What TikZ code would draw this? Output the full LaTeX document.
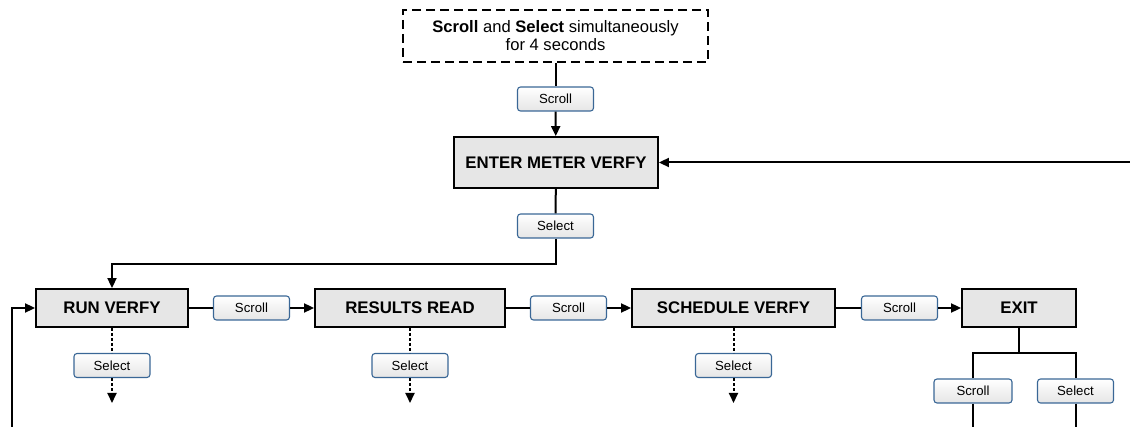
\documentclass[tikz,border=0pt]{standalone}
\usepackage{fontspec}
\setmainfont{Liberation Sans}
\usetikzlibrary{arrows.meta}
\definecolor{btnblue}{HTML}{3A6796}
\definecolor{boxgray}{HTML}{E6E6E6}
\tikzset{
  btn/.style={draw=btnblue, line width=1.1pt, rounded corners=3pt,
    top color=white, bottom color=black!10, minimum width=76pt, minimum height=24pt,
    inner sep=0pt, font=\fontsize{13.2}{15}\selectfont},
  statebox/.style={draw=black, line width=1.9pt, fill=boxgray, inner sep=0pt,
    minimum height=38pt, font=\fontsize{16.8}{19}\selectfont\bfseries},
  startbox/.style={draw=black, line width=1.8pt, dash pattern=on 9pt off 5pt,
    minimum width=305pt, minimum height=52pt, align=center, inner sep=0pt,
    font=\fontsize{16.6}{18}\selectfont},
  conn/.style={line width=2pt, draw=black},
  arr/.style={conn, -{Triangle[length=10pt,width=9pt]}},
  dotconn/.style={conn, dash pattern=on 3pt off 2pt},
  dotarr/.style={dotconn, -{Triangle[length=10pt,width=9pt]}}
}
\begin{document}
\begin{tikzpicture}[x=1pt,y=-1pt]
\useasboundingbox (0,0) rectangle (1130,427);
% start
\node[startbox] (start) at (555.5,36) {\textbf{Scroll} and \textbf{Select} simultaneously\\for 4 seconds};
\node[btn] (scr0) at (555.5,99) {Scroll};
\node[statebox, minimum width=204pt, minimum height=51pt] (enter) at (556,162.5) {ENTER METER VERFY};
\node[btn] (sel0) at (555.5,226) {Select};
% row
\node[statebox, minimum width=152pt] (run) at (112,308) {RUN VERFY};
\node[statebox, minimum width=190pt] (res) at (410,308) {RESULTS READ};
\node[statebox, minimum width=203pt] (sch) at (733.5,308) {SCHEDULE VERFY};
\node[statebox, minimum width=114pt] (exit) at (1019,308) {EXIT};
\node[btn] (s1) at (251.5,308) {Scroll};
\node[btn] (s2) at (568.5,308) {Scroll};
\node[btn] (s3) at (899.5,308) {Scroll};
% selects below
\node[btn] (rsel) at (112,365.5) {Select};
\node[btn] (esel1) at (410,365.5) {Select};
\node[btn] (ssel) at (733.5,365.5) {Select};
\node[btn, minimum width=78pt] (xscr) at (973,391) {Scroll};
\node[btn] (xsel) at (1075.5,391) {Select};
% coordinates
\coordinate (c1) at (112,264);
\coordinate (rin) at (1131,162.5);
\coordinate (lb) at (12,428);
\coordinate (eb) at (1019,353);
\coordinate (rend) at (112,403);
\coordinate (eend) at (410,403);
\coordinate (send) at (733.5,403);
\coordinate (xb1) at (973,428);
\coordinate (xb2) at (1075.5,428);
% connectors
\draw[conn] (start) -- (scr0);
\draw[arr] (scr0) -- (enter);
\draw[conn] (enter) -- (sel0);
\draw[arr] (sel0.south) |- (c1) -- (run.north);
\draw[arr] (rin) -- (enter.east);
\draw[arr] (lb) |- (run.west);
\draw[conn] (run.east) -- (s1.west);
\draw[arr] (s1.east) -- (res.west);
\draw[conn] (res.east) -- (s2.west);
\draw[arr] (s2.east) -- (sch.west);
\draw[conn] (sch.east) -- (s3.west);
\draw[arr] (s3.east) -- (exit.west);
\draw[dotconn] (run.south) -- (rsel.north);
\draw[dotarr] (rsel.south) -- (rend);
\draw[dotconn] (res.south) -- (esel1.north);
\draw[dotarr] (esel1.south) -- (eend);
\draw[dotconn] (sch.south) -- (ssel.north);
\draw[dotarr] (ssel.south) -- (send);
\draw[conn] (exit.south) -- (eb);
\draw[conn] (xscr.north) |- (eb) -| (xsel.north);
\draw[conn] (xscr.south) -- (xb1);
\draw[conn] (xsel.south) -- (xb2);
\end{tikzpicture}
\end{document}
